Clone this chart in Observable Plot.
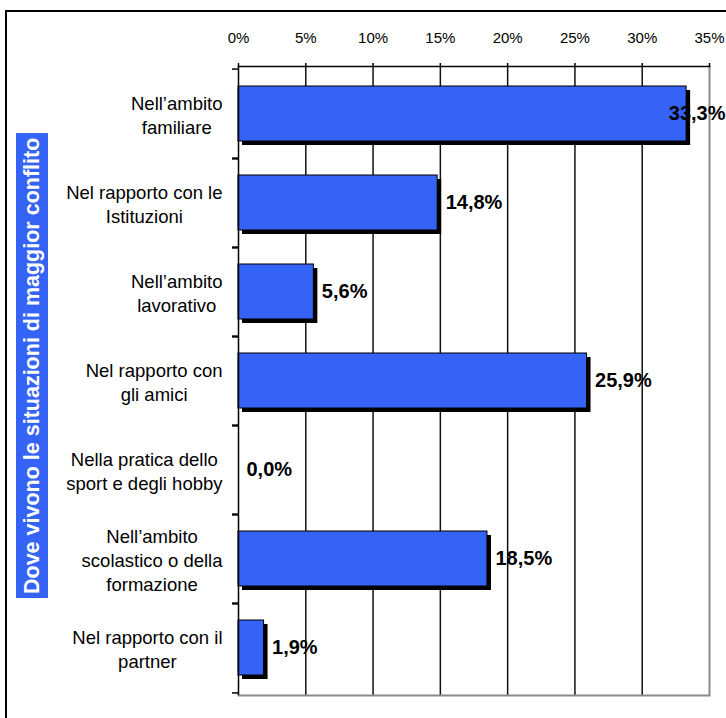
<!DOCTYPE html>
<html>
<head>
<meta charset="utf-8">
<script src="https://cdn.jsdelivr.net/npm/d3@7"></script>
<script src="https://cdn.jsdelivr.net/npm/@observablehq/plot@0.6"></script>
<style>
  html, body { margin: 0; padding: 0; background: #fff; overflow: hidden; }
  #wrap { position: relative; width: 726px; height: 718px; overflow: hidden; font-family: "Liberation Sans", Arial, sans-serif; }
  #border { position: absolute; left: 5px; top: 10px; width: 780px; height: 780px; border: 2px solid #000; }
  #chart { position: absolute; left: 0; top: 0; }
  #ytitle { position: absolute; left: 16px; top: 133px; width: 32px; height: 465px; background: #3563f5; color: #fff;
    font: bold 21.5px "Liberation Sans", Arial, sans-serif; writing-mode: vertical-rl; transform: rotate(180deg);
    display: flex; align-items: center; justify-content: center; white-space: nowrap; }
</style>
</head>
<body>
<div id="wrap">
  <div id="border"></div>
  <div id="chart"></div>
  <div id="ytitle">Dove vivono le situazioni di maggior conflito</div>
</div>
<script>
const categories = [
  "Nell’ambito\nfamiliare",
  "Nel rapporto con le\nIstituzioni",
  "Nell’ambito\nlavorativo",
  "Nel rapporto con\ngli amici",
  "Nella pratica dello\nsport e degli hobby",
  "Nell’ambito\nscolastico o della\nformazione",
  "Nel rapporto con il\npartner"
];
const values = [33.3, 14.8, 5.6, 25.9, 0.0, 18.5, 1.9];
const xTicks = [0, 5, 10, 15, 20, 25, 30, 35];
const gridTicks = [5, 10, 15, 20, 25, 30];
const borderTick = [35];

const W = 726, H = 718, ML = 238, MR = 17, MT = 66, MB = 23;
const step = (H - MT - MB) / categories.length;
const blue = "#3563f5";
const font = "'Liberation Sans', Arial, sans-serif";
const catSize = 18.5;

const data = categories.map((c, i) => ({category: c, value: values[i]}));
const fmt = v => v.toFixed(1).replace(".", ",") + "%";

const ctx = document.createElement("canvas").getContext("2d");
ctx.font = catSize + "px 'Liberation Sans'";
const labelMarks = data.map(d => {
  const w = d3.max(d.category.split("\n"), s => ctx.measureText(s).width);
  return Plot.text([d], {
    y: "category", text: "category", frameAnchor: "left",
    textAnchor: "middle", lineHeight: 1.3, fontSize: catSize, fill: "#000",
    dx: -16 - w / 2
  });
});

const chart = Plot.plot({
  width: W, height: H,
  marginLeft: ML, marginRight: MR, marginTop: MT, marginBottom: MB,
  style: {fontFamily: font, background: "transparent", overflow: "visible"},
  x: {domain: [0, 35], axis: null},
  y: {domain: categories, paddingInner: 0.38, paddingOuter: 0.19, axis: null},
  marks: [
    Plot.ruleX(gridTicks, {stroke: "#111", strokeWidth: 1.5}),
    Plot.ruleX(borderTick, {stroke: "#8a8a8a", strokeWidth: 2}),
    Plot.frame({anchor: "bottom", stroke: "#8a8a8a", strokeWidth: 2}),
    Plot.barX(data, {x: "value", y: "category", fill: "#000", dx: 4, dy: 4}),
    Plot.barX(data, {x: "value", y: "category", fill: blue, stroke: "#000", strokeWidth: 1}),
    Plot.ruleX([0], {stroke: "#000", strokeWidth: 1.5}),
    Plot.frame({anchor: "top", stroke: "#000", strokeWidth: 1.5}),
    Plot.axisX(xTicks, {anchor: "top", tickSize: 4, tickPadding: 20, tickFormat: d => d + "%", fontSize: 15, label: null, stroke: "#000", strokeWidth: 1.5}),
    Plot.axisY({anchor: "left", tickSize: 6, tickFormat: () => "", label: null, dy: -step / 2, strokeWidth: 1.5}),
    Plot.axisY({anchor: "left", tickSize: 6, tickFormat: () => "", label: null, dy: step / 2, strokeWidth: 1.5}),
    ...labelMarks,
    Plot.text(data.filter(d => d.value <= 30), {
      x: "value", y: "category", text: d => fmt(d.value), textAnchor: "start",
      dx: 8, fontWeight: "bold", fontSize: 20, fill: "#000"
    }),
    Plot.text(data.filter(d => d.value > 30), {
      y: "category", frameAnchor: "right", text: d => fmt(d.value), textAnchor: "end",
      dx: 16, fontWeight: "bold", fontSize: 20, fill: "#000"
    })
  ]
});
document.getElementById("chart").appendChild(chart);
</script>
</body>
</html>
